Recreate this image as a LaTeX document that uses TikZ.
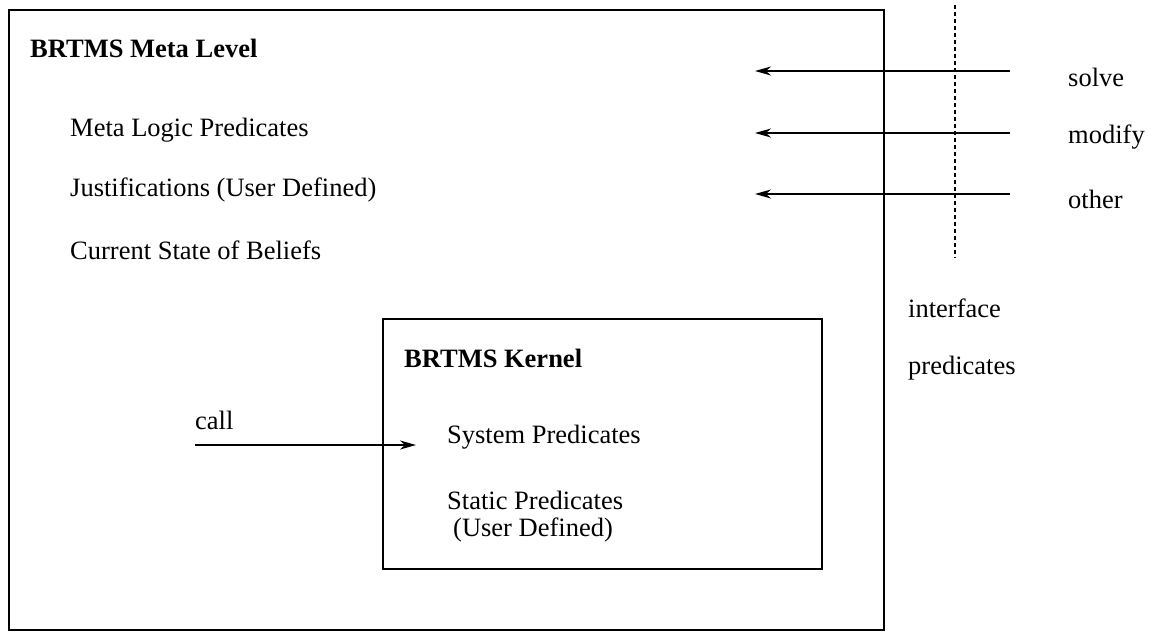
\documentclass[tikz,border=0pt]{standalone}
\usepackage{fontspec}
\setmainfont{Liberation Serif}
\usetikzlibrary{arrows.meta}
\begin{document}
\begin{tikzpicture}[x=1pt,y=-1pt,
  every node/.style={inner sep=0pt,anchor=west,font=\fontsize{26.5}{30}\selectfont},
  title/.style={font=\fontsize{26.5}{30}\selectfont\bfseries},
  frame/.style={draw,line width=1.6pt},
  flow/.style={line width=1.6pt,-{Stealth[length=16pt,width=9pt,inset=5pt]}},
  iface/.style={line width=1.8pt,dash pattern=on 3.5pt off 3.5pt}]
\useasboundingbox (0,0) rectangle (1153,632);

% outer meta-level box and inner kernel box
\draw[frame] (9,10) rectangle (884,630);
\draw[frame] (383,319) rectangle (822,569);

% meta level contents
\node[title] (meta) at (30,48) {BRTMS Meta Level};
\node (mlp) at (70,130) {Meta Logic Predicates};
\node (just) at (70,190) {Justifications (User Defined)};
\node (cur) at (70,250) {Current State of Beliefs};

% kernel contents
\node[title] (kern) at (404,358) {BRTMS Kernel};
\node (sys) at (447,437) {System Predicates};
\node (stat) at (447,500) {Static Predicates};
\node (udef) at (453,530) {(User Defined)};

% call into the kernel
\node (call) at (195,420) {call};
\coordinate (cs) at (195,445);
\coordinate (ce) at (416,445);
\draw[flow] (cs) -- (ce);

% interface boundary
\coordinate (dtop) at (955,5);
\coordinate (dbot) at (955,258);
\draw[iface] (dtop) -- (dbot);
\node (if1) at (908,308) {interface};
\node (if2) at (908,368) {predicates};

% interface predicates entering the meta level
\node (solve) at (1068,77) {solve};
\node (modify) at (1068,137) {modify};
\node (other) at (1068,199) {other};
\coordinate (s1) at (1010,71);
\coordinate (s2) at (755,71);
\coordinate (m1) at (1010,133);
\coordinate (m2) at (755,133);
\coordinate (o1) at (1010,194);
\coordinate (o2) at (755,194);
\draw[flow] (s1) -- (s2);
\draw[flow] (m1) -- (m2);
\draw[flow] (o1) -- (o2);
\end{tikzpicture}
\end{document}
